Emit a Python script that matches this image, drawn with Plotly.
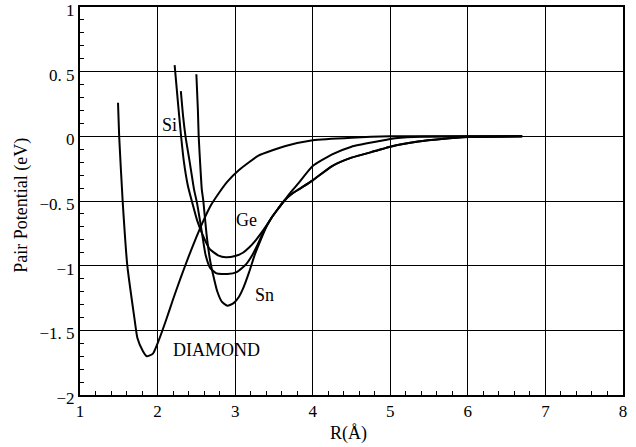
import plotly.graph_objects as go

# ---- data ----
diamond_r = [1.49, 1.505, 1.55, 1.61, 1.70, 1.74, 1.81, 1.86, 1.94, 2.02, 2.11, 2.20, 2.30, 2.40,
             2.50, 2.60, 2.68, 2.80, 2.90, 3.05, 3.30, 3.65, 4.00, 4.50, 5.00, 6.00, 6.70]
diamond_v = [0.26, 0.00, -0.50, -1.00, -1.40, -1.56, -1.66, -1.70, -1.68, -1.57, -1.42, -1.26, -1.09, -0.93,
             -0.78, -0.64, -0.54, -0.43, -0.35, -0.26, -0.15, -0.075, -0.03, -0.01, 0.0, 0.0, 0.0]

si_r = [2.22, 2.26, 2.30, 2.34, 2.39, 2.45, 2.51, 2.58, 2.67, 2.78, 2.88, 3.00, 3.10, 3.18, 3.27,
        3.34, 3.41, 3.48, 3.56, 3.63, 3.72, 3.82, 4.00, 4.25, 4.50, 4.83, 5.00, 5.36, 5.66, 6.00, 6.70]
si_v = [0.55, 0.28, 0.02, -0.20, -0.38, -0.52, -0.65, -0.76, -0.87, -0.92, -0.935, -0.925, -0.90, -0.86, -0.80,
        -0.745, -0.685, -0.62, -0.555, -0.50, -0.45, -0.41, -0.34, -0.23, -0.165, -0.11, -0.08, -0.04, -0.02, -0.005, 0.0]

ge_r = [2.30, 2.33, 2.36, 2.42, 2.47, 2.51, 2.56, 2.62, 2.68, 2.76, 2.90, 3.02, 3.14, 3.22, 3.28, 3.34,
        3.41, 3.48, 3.56, 3.63, 3.72, 3.82, 4.00, 4.25, 4.50, 4.83, 5.00, 5.36, 5.66, 6.00, 6.70]
ge_v = [0.35, 0.15, 0.00, -0.22, -0.41, -0.52, -0.70, -0.92, -1.02, -1.06, -1.065, -1.05, -0.99, -0.92, -0.85, -0.77,
        -0.69, -0.62, -0.555, -0.50, -0.45, -0.41, -0.34, -0.23, -0.165, -0.11, -0.08, -0.04, -0.02, -0.005, 0.0]

sn_r = [2.50, 2.52, 2.53, 2.55, 2.57, 2.59, 2.63, 2.68, 2.72, 2.77, 2.83, 2.90, 2.98, 3.05, 3.10, 3.18,
        3.25, 3.33, 3.41, 3.48, 3.56, 3.63, 3.72, 3.82, 4.00, 4.25, 4.50, 4.83, 5.00, 5.30, 6.00, 6.70]
sn_v = [0.48, 0.20, 0.00, -0.22, -0.41, -0.50, -0.75, -0.97, -1.08, -1.20, -1.28, -1.31, -1.29, -1.24, -1.18, -1.05,
        -0.92, -0.80, -0.69, -0.62, -0.555, -0.50, -0.43, -0.36, -0.23, -0.14, -0.08, -0.04, -0.02, -0.005, 0.0, 0.0]

x_ticks = [1, 2, 3, 4, 5, 6, 7, 8]
x_tick_text = ["1", "2", "3", "4", "5", "6", "7", "8"]
y_ticks = [1, 0.5, 0, -0.5, -1, -1.5, -2]
y_tick_text = ["1", "0. 5", "0", "\u22120. 5", "\u22121", "\u22121. 5", "\u22122"]

labels = ["Si", "Ge", "Sn", "DIAMOND"]
label_r = [2.15, 3.15, 3.38, 2.76]
label_v = [0.09, -0.65, -1.23, -1.65]

FONT = "Liberation Serif"

fig = go.Figure()
for r, v, name in [(diamond_r, diamond_v, "DIAMOND"), (si_r, si_v, "Si"),
                   (ge_r, ge_v, "Ge"), (sn_r, sn_v, "Sn")]:
    fig.add_trace(go.Scatter(x=r, y=v, mode="lines", name=name,
                             line=dict(color="black", width=2, shape="spline", smoothing=0.5)))

for t, r, v in zip(labels, label_r, label_v):
    fig.add_annotation(x=r, y=v, text=t, showarrow=False,
                       font=dict(family=FONT, size=18, color="black"))

fig.add_annotation(xref="paper", yref="paper", x=0.495, y=-0.098, yanchor="middle",
                   text="R(\u00c5)", showarrow=False,
                   font=dict(family=FONT, size=18, color="black"))
fig.add_annotation(xref="paper", yref="paper", x=-0.107, y=0.49, xanchor="center", yanchor="middle",
                   text="Pair Potential (eV)", textangle=-90, showarrow=False,
                   font=dict(family=FONT, size=18, color="black"))

axis_common = dict(showline=True, linecolor="black", linewidth=2, mirror=True,
                   showgrid=True, gridcolor="black", gridwidth=1.3, zeroline=False,
                   ticks="inside", ticklen=5, tickcolor="black", automargin=False,
                   ticklabeloverflow="allow",
                   tickfont=dict(family=FONT, size=17, color="black"))

fig.update_xaxes(range=[1, 8], tickvals=x_ticks, ticktext=x_tick_text,
                 minor=dict(dtick=0.2, ticks="inside", ticklen=4, tickcolor="black", showgrid=False),
                 **axis_common)
fig.update_yaxes(range=[-2, 1], tickvals=y_ticks, ticktext=y_tick_text, ticklabelshift=3,
                 minor=dict(dtick=0.1, ticks="inside", ticklen=4, tickcolor="black", showgrid=False),
                 **axis_common)

fig.update_layout(width=636, height=447, margin=dict(l=80, r=13, t=7, b=52),
                  plot_bgcolor="white", paper_bgcolor="white", showlegend=False)

fig.write_html("out.html", config={"displayModeBar": False},
               post_script="document.body.style.margin='0px';")
